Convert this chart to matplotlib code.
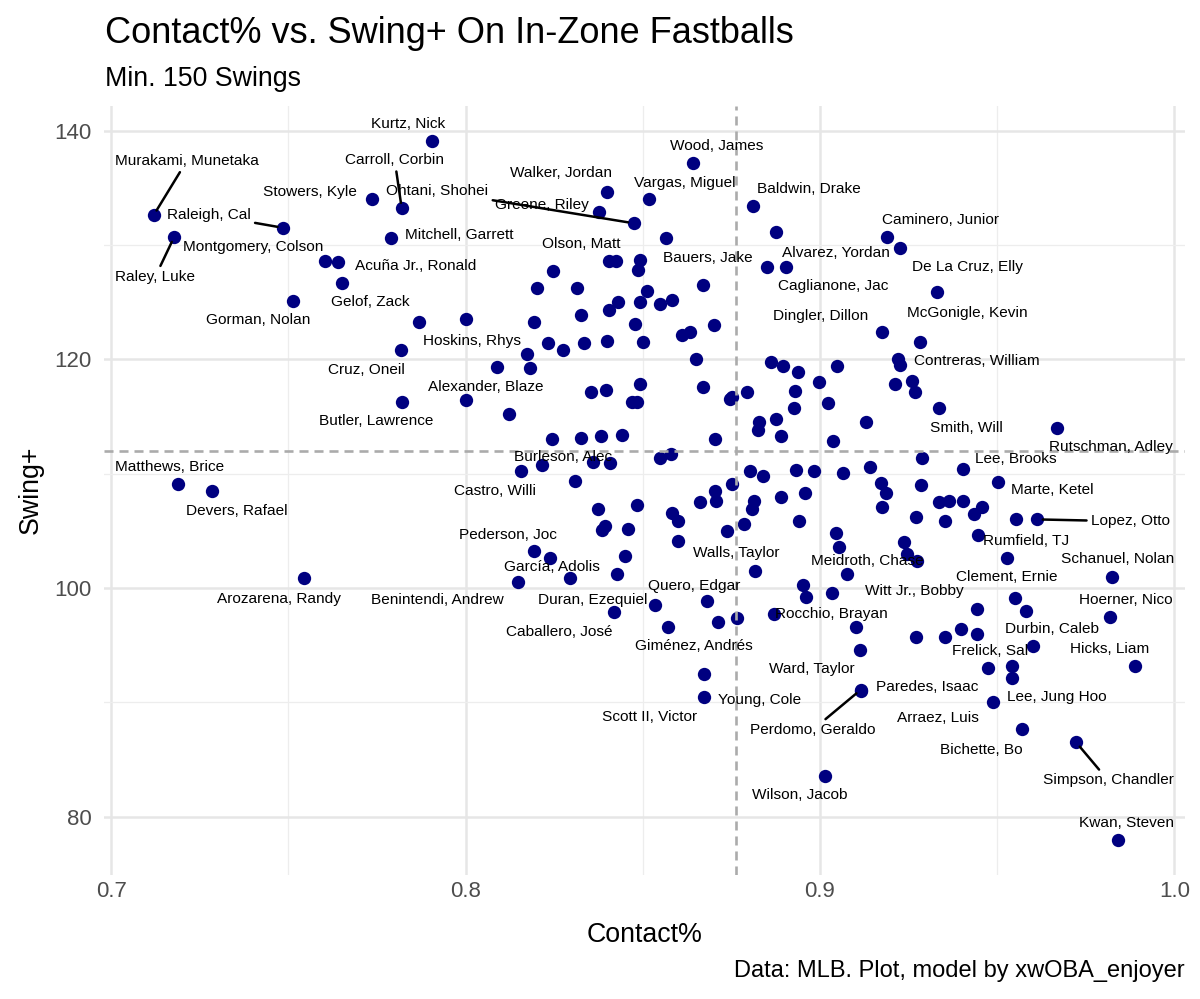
import matplotlib
matplotlib.use("Agg")
import matplotlib.pyplot as plt
from matplotlib.ticker import FixedLocator

plt.rcParams['font.family'] = ['Liberation Sans', 'DejaVu Sans']
plt.rcParams['lines.scale_dashes'] = False

# ---------------- data ----------------
labeled_names = [
    "Murakami, Munetaka", "Raleigh, Cal", "Raley, Luke", "Stowers, Kyle",
    "Montgomery, Colson", "Acuña Jr., Ronald", "Gelof, Zack", "Gorman, Nolan",
    "Kurtz, Nick", "Carroll, Corbin", "Mitchell, Garrett", "Walker, Jordan",
    "Greene, Riley", "Ohtani, Shohei", "Vargas, Miguel", "Olson, Matt",
    "Hoskins, Rhys", "Cruz, Oneil", "Wood, James", "Baldwin, Drake",
    "Caminero, Junior", "De La Cruz, Elly", "Caglianone, Jac", "Alvarez, Yordan",
    "Bauers, Jake", "Dingler, Dillon", "McGonigle, Kevin", "Contreras, William",
    "Smith, Will", "Rutschman, Adley", "Lee, Brooks", "Marte, Ketel",
    "Lopez, Otto", "Rumfield, TJ", "Schanuel, Nolan", "Clement, Ernie",
    "Hoerner, Nico", "Durbin, Caleb", "Hicks, Liam", "Frelick, Sal",
    "Arraez, Luis", "Lee, Jung Hoo", "Bichette, Bo", "Simpson, Chandler",
    "Kwan, Steven", "Wilson, Jacob", "Paredes, Isaac", "Perdomo, Geraldo",
    "Young, Cole", "Scott II, Victor", "Ward, Taylor", "Rocchio, Brayan",
    "Giménez, Andrés", "Duran, Ezequiel", "Caballero, José", "Benintendi, Andrew",
    "García, Adolis", "Pederson, Joc", "Arozarena, Randy", "Matthews, Brice",
    "Devers, Rafael", "Castro, Willi", "Burleson, Alec", "Alexander, Blaze",
    "Butler, Lawrence", "Quero, Edgar", "Walls, Taylor", "Meidroth, Chase",
    "Witt Jr., Bobby",
]
labeled_contact = [
    0.7120, 0.7485, 0.7178, 0.7736,
    0.7603, 0.7640, 0.7651, 0.7513,
    0.7905, 0.7820, 0.7789, 0.8398,
    0.8376, 0.8474, 0.8517, 0.8404,
    0.8001, 0.7818, 0.8641, 0.8810,
    0.9188, 0.9227, 0.8851, 0.8903,
    0.8669, 0.9176, 0.9330, 0.9226,
    0.9337, 0.9670, 0.9405, 0.9501,
    0.9613, 0.9447, 0.9825, 0.9529,
    0.9819, 0.9602, 0.9890, 0.9543,
    0.9487, 0.9543, 0.9571, 0.9723,
    0.9842, 0.9013, 0.9117, 0.9115,
    0.8672, 0.8672, 0.9114, 0.8869,
    0.8570, 0.8534, 0.8418, 0.8147,
    0.8294, 0.8193, 0.7544, 0.7189,
    0.7285, 0.8156, 0.8215, 0.8001,
    0.7820, 0.8680, 0.8816, 0.9075,
    0.9275,
]
labeled_swing = [
    132.6, 131.5, 130.7, 134.0,
    128.6, 128.5, 126.7, 125.1,
    139.1, 133.2, 130.6, 134.6,
    132.9, 131.9, 134.0, 128.6,
    123.5, 120.8, 137.2, 133.4,
    130.7, 129.7, 128.1, 128.1,
    126.5, 122.4, 125.9, 119.5,
    115.7, 114.0, 110.4, 109.3,
    106.0, 104.6, 101.0, 102.6,
    97.5, 94.9, 93.2, 93.2,
    90.0, 92.1, 87.7, 86.5,
    78.0, 83.6, 91.0, 91.1,
    92.5, 90.5, 94.6, 97.7,
    96.6, 98.5, 97.9, 100.5,
    100.9, 103.2, 100.9, 109.1,
    108.5, 110.2, 110.8, 116.4,
    116.3, 98.9, 101.5, 101.2,
    102.4,
]

other_contact = [
    0.8424, 0.8491, 0.8486, 0.8246, 0.8201, 0.8314, 0.8511, 0.8429, 0.8404, 0.8491,
    0.8325, 0.8477, 0.7868, 0.8193, 0.8232, 0.8274, 0.8334, 0.8398, 0.8500, 0.8173,
    0.8875, 0.8565, 0.8548, 0.8584, 0.8700, 0.8610, 0.8634, 0.9282, 0.8649, 0.8861,
    0.8895, 0.8938, 0.9047, 0.9219, 0.8996, 0.9213, 0.9261, 0.9267, 0.8669, 0.8745,
    0.8751, 0.8794, 0.8931, 0.8928, 0.9024, 0.9131, 0.8827, 0.8824, 0.8876, 0.8889,
    0.9038, 0.8703, 0.8325, 0.8381, 0.8441, 0.8548, 0.8579, 0.9289, 0.8802, 0.8838,
    0.8933, 0.8982, 0.9064, 0.9140, 0.8751, 0.8703, 0.8708, 0.8661, 0.8813, 0.8807,
    0.8889, 0.8959, 0.9171, 0.9185, 0.9176, 0.9284, 0.9270, 0.8582, 0.8599, 0.8785,
    0.8942, 0.8737, 0.8599, 0.9044, 0.9055, 0.9238, 0.9247, 0.8951, 0.8962, 0.9033,
    0.8088, 0.8181, 0.8122, 0.8353, 0.8396, 0.8491, 0.8469, 0.8483, 0.8243, 0.8359,
    0.8407, 0.8308, 0.8373, 0.8483, 0.8393, 0.8384, 0.8458, 0.8238, 0.8449, 0.8427,
    0.8711, 0.8765, 0.9103, 0.9272, 0.9337, 0.9363, 0.9405, 0.9458, 0.9436, 0.9354,
    0.9554, 0.9549, 0.9580, 0.9444, 0.9399, 0.9444, 0.9354, 0.9473,
]
other_swing = [
    128.6, 128.7, 127.8, 127.7, 126.2, 126.2, 126.0, 125.0, 124.3, 125.0,
    123.9, 123.1, 123.3, 123.3, 121.4, 120.8, 121.4, 121.6, 121.5, 120.5,
    131.1, 130.6, 124.8, 125.2, 123.0, 122.1, 122.4, 121.5, 120.0, 119.8,
    119.4, 118.9, 119.4, 120.0, 118.0, 117.8, 118.1, 117.1, 117.6, 116.5,
    116.7, 117.1, 117.2, 115.7, 116.2, 114.5, 114.5, 113.8, 114.8, 113.3,
    112.9, 113.0, 113.1, 113.3, 113.4, 111.4, 111.7, 111.4, 110.2, 109.8,
    110.3, 110.2, 110.1, 110.6, 109.1, 108.5, 107.6, 107.5, 107.6, 106.9,
    108.0, 108.3, 109.2, 108.3, 107.1, 109.0, 106.2, 106.6, 105.9, 105.6,
    105.9, 105.0, 104.1, 104.8, 103.6, 104.0, 103.0, 100.3, 99.2, 99.6,
    119.3, 119.2, 115.2, 117.1, 117.3, 117.8, 116.3, 116.3, 113.0, 111.0,
    110.9, 109.4, 106.9, 107.3, 105.4, 105.1, 105.2, 102.6, 102.8, 101.2,
    97.0, 97.4, 96.6, 95.7, 107.5, 107.6, 107.6, 107.1, 106.5, 105.9,
    106.0, 99.1, 98.0, 98.2, 96.4, 96.0, 95.7, 93.0,
]

avg_contact = 0.8762
avg_swing = 112.0

x_ticks = [0.7, 0.8, 0.9, 1.0]
x_tick_labels = ["0.7", "0.8", "0.9", "1.0"]
y_ticks = [80, 100, 120, 140]
x_minor = [0.75, 0.85, 0.95]
y_minor = [90, 110, 130]

title = "Contact% vs. Swing+ On In-Zone Fastballs"
subtitle = "Min. 150 Swings"
caption = "Data: MLB. Plot, model by xwOBA_enjoyer"

# ------------- label layout (pixel offsets from each point) -------------
label_offsets = {
    "Murakami, Munetaka": (33, 54), "Raleigh, Cal": (-74, 13), "Raley, Luke": (-19, -40),
    "Stowers, Kyle": (-62, 7), "Montgomery, Colson": (-72, 14), "Acuña Jr., Ronald": (78, -4),
    "Gelof, Zack": (28, -19), "Gorman, Nolan": (-35, -19), "Kurtz, Nick": (-24, 17),
    "Carroll, Corbin": (-7, 48), "Mitchell, Garrett": (69, 3), "Walker, Jordan": (-46, 19),
    "Greene, Riley": (-57, 7), "Ohtani, Shohei": (-196, 32), "Vargas, Miguel": (36, 16),
    "Olson, Matt": (-27, 17), "Hoskins, Rhys": (6, -22), "Cruz, Oneil": (-35, -20),
    "Wood, James": (24, 17), "Baldwin, Drake": (56, 17), "Caminero, Junior": (54, 17),
    "De La Cruz, Elly": (67, -19), "Caglianone, Jac": (66, -19), "Alvarez, Yordan": (50, 14),
    "Bauers, Jake": (5, 27), "Dingler, Dillon": (-62, 16), "McGonigle, Kevin": (30, -21),
    "Contreras, William": (77, 4), "Smith, Will": (27, -20), "Rutschman, Adley": (54, -19),
    "Lee, Brooks": (52, 10), "Marte, Ketel": (55, -8), "Lopez, Otto": (93, -2),
    "Rumfield, TJ": (48, -6), "Schanuel, Nolan": (5, 18), "Clement, Ernie": (-1, -19),
    "Hoerner, Nico": (16, 17), "Durbin, Caleb": (19, 17), "Hicks, Liam": (-26, 17),
    "Frelick, Sal": (-22, 15), "Arraez, Luis": (-55, -16), "Lee, Jung Hoo": (44, -19),
    "Bichette, Bo": (-41, -21), "Simpson, Chandler": (32, -38), "Kwan, Steven": (8, 17),
    "Wilson, Jacob": (-25, -19), "Paredes, Isaac": (66, 4), "Perdomo, Geraldo": (-48, -40),
    "Young, Cole": (56, -26), "Scott II, Victor": (-54, -20), "Ward, Taylor": (-49, -19),
    "Rocchio, Brayan": (58, 0), "Giménez, Andrés": (26, -19), "Duran, Ezequiel": (-62, 5),
    "Caballero, José": (-54, -20), "Benintendi, Andrew": (-80, -18), "García, Adolis": (-18, 11),
    "Pederson, Joc": (-26, 16), "Arozarena, Randy": (-25, -21), "Matthews, Brice": (-9, 17),
    "Devers, Rafael": (25, -20), "Castro, Willi": (-26, -20), "Burleson, Alec": (21, 8),
    "Alexander, Blaze": (20, 13), "Butler, Lawrence": (-26, -19), "Quero, Edgar": (-12, 15),
    "Walls, Taylor": (-18, 18), "Meidroth, Chase": (21, 13), "Witt Jr., Bobby": (-3, -30),
}
segment_names = {"Murakami, Munetaka", "Raleigh, Cal", "Raley, Luke", "Carroll, Corbin",
                 "Ohtani, Shohei", "Lopez, Otto", "Simpson, Chandler", "Perdomo, Geraldo"}

# ---------------- figure ----------------
W, H = 1200, 999
fig = plt.figure(figsize=(W / 100, H / 100), dpi=100)
fig.patch.set_facecolor("white")
ax = fig.add_axes([104 / W, 1 - 874.5 / H, (1185 - 104) / W, (874.5 - 106) / H])
ax.set_facecolor("white")

ax.set_xlim(0.698, 1.003)
ax.set_ylim(74.95, 142.15)

ax.xaxis.set_major_locator(FixedLocator(x_ticks))
ax.set_xticklabels(x_tick_labels)
ax.yaxis.set_major_locator(FixedLocator(y_ticks))
ax.xaxis.set_minor_locator(FixedLocator(x_minor))
ax.yaxis.set_minor_locator(FixedLocator(y_minor))
ax.grid(which="major", color="#E6E6E6", linewidth=1.8, zorder=0)
ax.grid(which="minor", color="#EDEDED", linewidth=0.9, zorder=0)
ax.set_axisbelow(True)
for s in ax.spines.values():
    s.set_visible(False)
ax.tick_params(which="both", length=0)
ax.tick_params(axis="x", labelsize=16, labelcolor="#4D4D4D", pad=5)
ax.tick_params(axis="y", labelsize=16, labelcolor="#4D4D4D", pad=9)

ax.scatter(other_contact + labeled_contact, other_swing + labeled_swing,
           s=92, color="#000080", linewidths=0, zorder=2)

ax.axvline(avg_contact, color="#ABABAB", linewidth=1.9, dashes=(6.5, 4.3), zorder=3)
ax.axhline(avg_swing, color="#ABABAB", linewidth=1.9, dashes=(6.5, 4.3), zorder=3)

for name, x, y in zip(labeled_names, labeled_contact, labeled_swing):
    dx, dy = label_offsets[name]
    kw = {}
    if name in segment_names:
        kw["arrowprops"] = dict(arrowstyle="-", color="black", lw=1.8,
                                shrinkA=1, shrinkB=4)
    ax.annotate(name, (x, y), xytext=(dx, dy), textcoords="offset pixels",
                ha="center", va="center", fontsize=11.1, color="black",
                zorder=4, **kw)

fig.text(105 / W, 1 - 43 / H, title, fontsize=26, color="black", ha="left", va="baseline")
fig.text(105 / W, 1 - 86 / H, subtitle, fontsize=19.3, color="black", ha="left", va="baseline")
fig.text(644.5 / W, 1 - 942 / H, "Contact%", fontsize=19.3, color="black", ha="center", va="baseline")
fig.text(31 / W, 1 - 490 / H, "Swing+", fontsize=19.3, color="black", ha="center", va="center",
         rotation=90)
fig.text(1185 / W, 1 - 977 / H, caption, fontsize=17, color="black", ha="right", va="baseline")

fig.savefig("out.png", dpi=100, facecolor="white")
